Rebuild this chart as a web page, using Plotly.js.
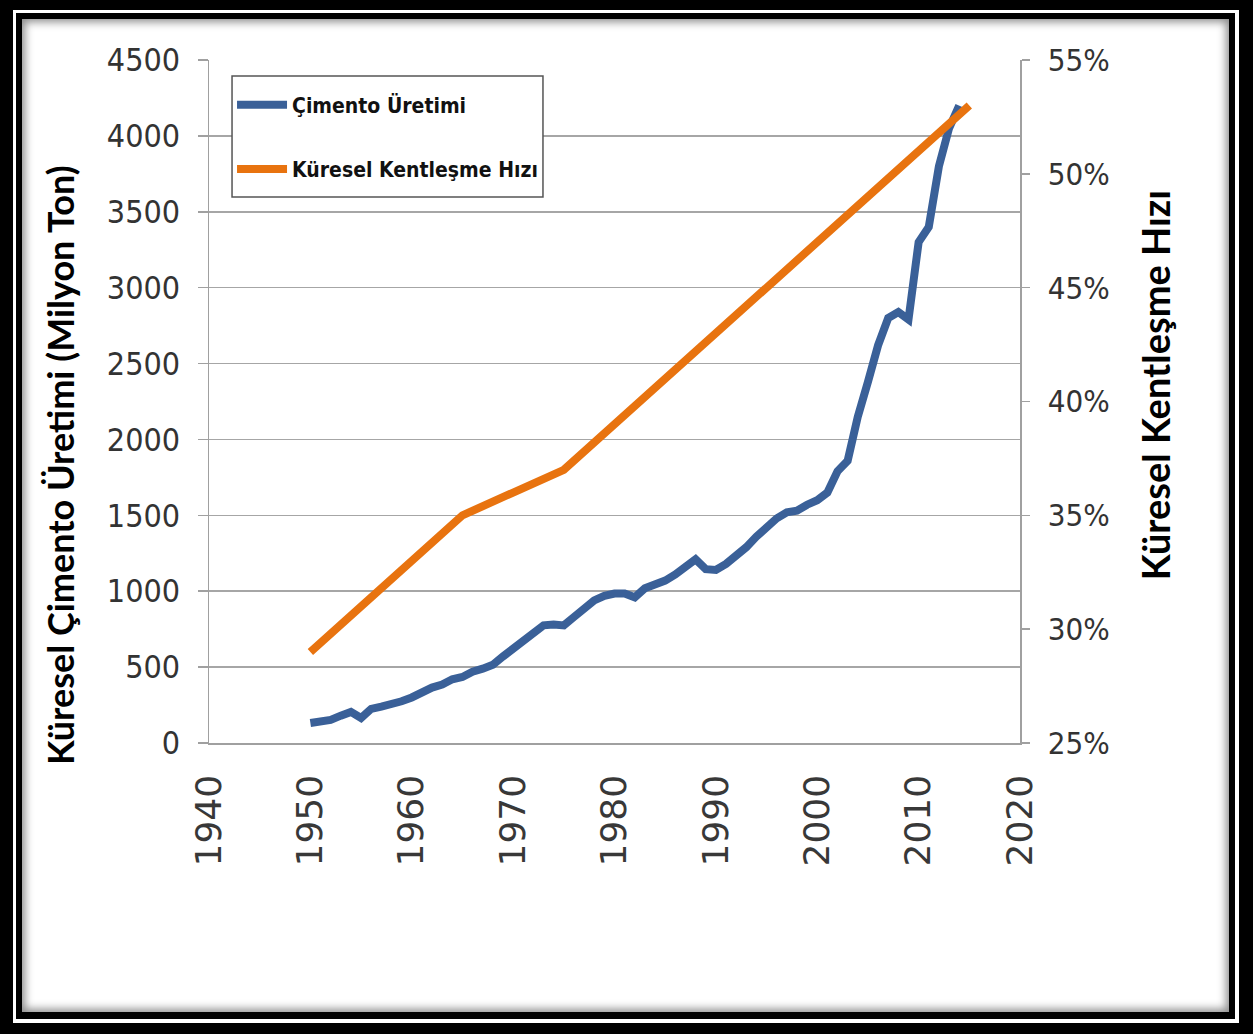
<!DOCTYPE html>
<html>
<head>
<meta charset="utf-8">
<script src="https://cdn.plot.ly/plotly-3.0.1.min.js"></script>
<style>
  html, body { margin: 0; padding: 0; width: 1253px; height: 1034px; overflow: hidden; background: #000; }
  .box { position: absolute; }
  #f1 { left: 13px; top: 10px; width: 1226px; height: 1013px; background: #fff; }
  #f2 { left: 16px; top: 13px; width: 1219px; height: 1006px; background: #000; }
  #f3 { left: 22px; top: 19px; width: 1207px; height: 993px; background: #fff; box-shadow: inset 0 0 9px 3px rgba(0,0,0,0.45); }
  #chart { position: absolute; left: 0; top: 0; width: 1253px; height: 1034px; }
</style>
</head>
<body>
<div class="box" id="f1"></div>
<div class="box" id="f2"></div>
<div class="box" id="f3"></div>
<div id="chart"></div>
<script>
// Annual global cement production (million tons)
const cementYears = [1950,1951,1952,1953,1954,1955,1956,1957,1958,1959,
  1960,1961,1962,1963,1964,1965,1966,1967,1968,1969,
  1970,1971,1972,1973,1974,1975,1976,1977,1978,1979,
  1980,1981,1982,1983,1984,1985,1986,1987,1988,1989,
  1990,1991,1992,1993,1994,1995,1996,1997,1998,1999,
  2000,2001,2002,2003,2004,2005,2006,2007,2008,2009,
  2010,2011,2012,2013,2014];
const cementValues = [132,142,152,180,205,165,225,240,255,275,
  300,340,365,385,420,435,470,490,515,570,
  625,670,720,775,780,775,830,880,940,970,
  985,985,960,1020,1040,1070,1110,1160,1210,1145,
  1140,1180,1230,1290,1360,1420,1480,1520,1530,1570,
  1600,1650,1790,1860,2150,2380,2620,2800,2840,2790,
  3300,3400,3800,4050,4200];

// Global urbanization rate (%)
const urbanYears = [1950,1955,1960,1965,1970,1975,1980,1985,1990,1995,2000,2005,2010,2015];
const urbanValues = [29,31,33,35,36,37,39,41,43,45,47,49,51,53];

// Tick labels
const xTickVals = [1940,1950,1960,1970,1980,1990,2000,2010,2020];
const xTickText = ['1940','1950','1960','1970','1980','1990','2000','2010','2020'];
const yTickVals = [0,500,1000,1500,2000,2500,3000,3500,4000,4500];
const yTickText = ['0','500','1000','1500','2000','2500','3000','3500','4000','4500'];
const y2TickVals = [25,30,35,40,45,50,55];
const y2TickText = ['25%','30%','35%','40%','45%','50%','55%'];

const cementName = 'Çimento Üretimi';
const urbanName = 'Küresel Kentleşme Hızı';
const leftTitle = 'Küresel Çimento Üretimi (Milyon Ton)';
const rightTitle = 'Küresel Kentleşme Hızı';

const narrow = '"Liberation Sans Narrow", "DejaVu Sans Condensed", sans-serif';
const titleFont = 'Lato, "Open Sans", sans-serif';

const traces = [
  { x: cementYears, y: cementValues, name: cementName, type: 'scatter', mode: 'lines',
    line: { color: '#3a6098', width: 8 }, yaxis: 'y', legendgroup: 'a' },
  { x: urbanYears, y: urbanValues, name: urbanName, type: 'scatter', mode: 'lines',
    line: { color: '#e8730f', width: 8 }, yaxis: 'y2', legendgroup: 'b' }
];

const layout = {
  width: 1253, height: 1034,
  margin: { l: 209, r: 233, t: 60, b: 291 },
  paper_bgcolor: 'rgba(0,0,0,0)', plot_bgcolor: 'rgba(0,0,0,0)',
  showlegend: true,
  legend: {
    x: 0.0284, y: 0.964, xanchor: 'left', yanchor: 'top',
    bgcolor: 'rgba(0,0,0,0)', borderwidth: 0,
    font: { family: narrow, size: 21, color: '#111', weight: 'bold' },
    itemwidth: 50, tracegroupgap: 34, traceorder: 'grouped'
  },
  shapes: [
    { type: 'rect', xref: 'paper', yref: 'paper', layer: 'above',
      x0: 0.0284, x1: 0.4118, y0: 0.7994, y1: 0.9766,
      fillcolor: '#ffffff', line: { color: '#555555', width: 1.5 } }
  ],
  annotations: [
    { text: leftTitle, xref: 'paper', yref: 'paper', x: -0.1837, y: 0.407,
      xanchor: 'center', yanchor: 'middle', textangle: -90, showarrow: false,
      font: { family: titleFont, size: 36, color: '#000', weight: 'bold' } },
    { text: rightTitle, xref: 'paper', yref: 'paper', x: 1.1665, y: 0.524,
      xanchor: 'center', yanchor: 'middle', textangle: -90, showarrow: false,
      font: { family: titleFont, size: 38, color: '#000', weight: 'bold' } }
  ],
  xaxis: {
    range: [1940, 2020], tickmode: 'array', tickvals: xTickVals, ticktext: xTickText,
    tickangle: -90, ticks: '', ticklabelstandoff: 16,
    tickfont: { family: '"DejaVu Sans", sans-serif', size: 36, color: '#383838' },
    showline: true, linecolor: '#a0a0a0', linewidth: 1.5,
    showgrid: false, zeroline: false
  },
  yaxis: {
    range: [0, 4500], tickmode: 'array', tickvals: yTickVals, ticktext: yTickText,
    ticks: 'outside', ticklen: 10, tickcolor: '#a0a0a0', tickwidth: 1.5,
    ticklabelstandoff: 11,
    tickfont: { family: narrow, size: 32, color: '#333' },
    showline: true, linecolor: '#a0a0a0', linewidth: 1.5,
    showgrid: true, gridcolor: '#a6a6a6', gridwidth: 1.5, zeroline: false
  },
  yaxis2: {
    range: [25, 55], overlaying: 'y', side: 'right', tickmode: 'array',
    tickvals: y2TickVals, ticktext: y2TickText,
    ticks: 'outside', ticklen: 8, tickcolor: '#a0a0a0', tickwidth: 1.5,
    ticklabelstandoff: 12,
    tickfont: { family: narrow, size: 31, color: '#333' },
    showline: true, linecolor: '#a0a0a0', linewidth: 1.5,
    showgrid: false, zeroline: false
  }
};

Plotly.newPlot('chart', traces, layout, { staticPlot: true });
</script>
</body>
</html>
